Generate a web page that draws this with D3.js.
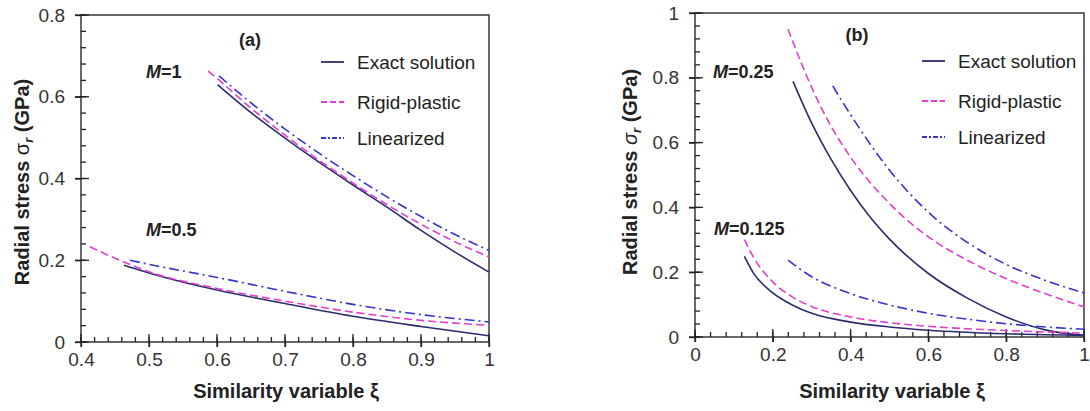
<!DOCTYPE html>
<html><head><meta charset="utf-8">
<script src="https://cdn.jsdelivr.net/npm/d3@7"></script>
<style>body{margin:0;background:#fff}svg{display:block}</style>
</head><body>
<svg id="c" width="1090" height="411"></svg>
<script>
// ---------- data: panel (a) ----------
const aXTicks = [0.4,0.5,0.6,0.7,0.8,0.9,1];
const aYTicks = [0,0.2,0.4,0.6,0.8];
const aExact1X = [0.601,0.65,0.7,0.75,0.8,0.85,0.9,0.95,1.0];
const aExact1Y = [0.629,0.561,0.499,0.440,0.384,0.330,0.273,0.220,0.171];
const aRigid1X = [0.587,0.6,0.65,0.7,0.75,0.8,0.85,0.9,0.95,1.0];
const aRigid1Y = [0.663,0.645,0.572,0.506,0.445,0.389,0.336,0.288,0.245,0.208];
const aLin1X   = [0.603,0.65,0.7,0.75,0.8,0.85,0.9,0.95,1.0];
const aLin1Y   = [0.651,0.585,0.521,0.462,0.407,0.355,0.307,0.263,0.224];
const aExact05X = [0.463,0.5,0.6,0.7,0.8,0.9,1.0];
const aExact05Y = [0.188,0.169,0.127,0.094,0.063,0.038,0.015];
const aRigid05X = [0.413,0.45,0.5,0.6,0.7,0.8,0.9,1.0];
const aRigid05Y = [0.233,0.205,0.172,0.131,0.100,0.073,0.053,0.041];
const aLin05X   = [0.472,0.5,0.6,0.7,0.8,0.9,1.0];
const aLin05Y   = [0.200,0.190,0.158,0.124,0.092,0.067,0.049];
// ---------- data: panel (b) ----------
const bXTicks = [0,0.2,0.4,0.6,0.8,1];
const bYTicks = [0,0.2,0.4,0.6,0.8,1];
const bExact25X = [0.252,0.3,0.35,0.4,0.45,0.5,0.6,0.7,0.8,0.9,1.0];
const bExact25Y = [0.789,0.660,0.548,0.452,0.370,0.302,0.196,0.120,0.062,0.022,0.005];
const bRigid25X = [0.239,0.3,0.35,0.4,0.5,0.6,0.7,0.8,0.9,1.0];
const bRigid25Y = [0.950,0.770,0.650,0.555,0.412,0.309,0.237,0.180,0.134,0.093];
const bLin25X   = [0.354,0.4,0.5,0.6,0.7,0.8,0.9,1.0];
const bLin25Y   = [0.775,0.686,0.515,0.385,0.292,0.224,0.175,0.136];
const bExact125X = [0.127,0.15,0.2,0.25,0.3,0.4,0.5,0.6,0.8,1.0];
const bExact125Y = [0.249,0.198,0.136,0.099,0.073,0.046,0.031,0.021,0.010,0.005];
const bRigid125X = [0.127,0.15,0.2,0.25,0.3,0.4,0.5,0.6,0.8,1.0];
const bRigid125Y = [0.301,0.247,0.170,0.124,0.094,0.062,0.044,0.033,0.020,0.012];
const bLin125X   = [0.239,0.3,0.4,0.5,0.6,0.7,0.8,0.9,1.0];
const bLin125Y   = [0.237,0.186,0.134,0.099,0.073,0.055,0.041,0.031,0.024];
const legendNames = ["Exact solution","Rigid-plastic","Linearized"];

const styles = {
  exact: {color:"#2c2b6e", dash:null, w:1.6},
  rigid: {color:"#e23fcf", dash:"8,4", w:1.6},
  lin:   {color:"#3434cf", dash:"10,4,2,4", w:1.6}
};
const zip = (xs,ys)=>xs.map((x,i)=>[x,ys[i]]);

const panels = [
  {x0:81,x1:489,y0:15,y1:342, xd:[0.4,1], yd:[0,0.8], xt:aXTicks, yt:aYTicks, xMinor:0.02, yMinor:0.04,
   xfmt:d=>d===1?"1":d3.format(".1f")(d), yfmt:d=>d===0?"0":d3.format(".1f")(d),
   series:[["exact",zip(aExact1X,aExact1Y)],["rigid",zip(aRigid1X,aRigid1Y)],["lin",zip(aLin1X,aLin1Y)],
           ["exact",zip(aExact05X,aExact05Y)],["rigid",zip(aRigid05X,aRigid05Y)],["lin",zip(aLin05X,aLin05Y)]],
   tag:"(a)", tagX:250, tagY:46, italicSigma:false, ytx:22, yty:182, xtx:286,
   labels:[["1",146,78],["0.5",146,236]], legX:321, legY:[62,102,138]},
  {x0:695,x1:1084,y0:13,y1:337, xd:[0,1], yd:[0,1], xt:bXTicks, yt:bYTicks, xMinor:0.04, yMinor:0.04,
   xfmt:d=>(d===0||d===1)?String(d):d3.format(".1f")(d), yfmt:d=>(d===0||d===1)?String(d):d3.format(".1f")(d),
   series:[["exact",zip(bExact25X,bExact25Y)],["rigid",zip(bRigid25X,bRigid25Y)],["lin",zip(bLin25X,bLin25Y)],
           ["exact",zip(bExact125X,bExact125Y)],["rigid",zip(bRigid125X,bRigid125Y)],["lin",zip(bLin125X,bLin125Y)]],
   tag:"(b)", tagX:857, tagY:41, italicSigma:true, ytx:630, yty:172, xtx:892,
   labels:[["0.25",713,78],["0.125",714,235]], legX:922, legY:[61,101,137]}
];

const svg = d3.select("#c");
const font = "Liberation Sans, Arial, sans-serif";

panels.forEach(p=>{
  const x = d3.scaleLinear().domain(p.xd).range([p.x0,p.x1]);
  const y = d3.scaleLinear().domain(p.yd).range([p.y1,p.y0]);
  const g = svg.append("g");
  const xMinorT = d3.range(p.xd[0], p.xd[1]+1e-9, p.xMinor);
  const yMinorT = d3.range(p.yd[0], p.yd[1]+1e-9, p.yMinor);

  // frame
  g.append("rect").attr("x",p.x0).attr("y",p.y0).attr("width",p.x1-p.x0).attr("height",p.y1-p.y0)
    .attr("fill","none").attr("stroke","#444").attr("stroke-width",1.6);

  // tick marks drawn from the scales (minor inward, major crossing)
  const tk = g.append("g").attr("stroke","#222").attr("stroke-width",1.3);
  tk.selectAll("line.xm").data(xMinorT).join("line").attr("class","xm")
    .attr("x1",d=>x(d)).attr("x2",d=>x(d)).attr("y1",p.y1).attr("y2",p.y1-5);
  tk.selectAll("line.ym").data(yMinorT).join("line").attr("class","ym")
    .attr("x1",p.x0).attr("x2",p.x0+5).attr("y1",d=>y(d)).attr("y2",d=>y(d));
  tk.selectAll("line.xM").data(p.xt).join("line").attr("class","xM")
    .attr("x1",d=>x(d)).attr("x2",d=>x(d)).attr("y1",p.y1+5).attr("y2",p.y1-8);
  tk.selectAll("line.yM").data(p.yt).join("line").attr("class","yM")
    .attr("x1",p.x0-6).attr("x2",p.x0+8).attr("y1",d=>y(d)).attr("y2",d=>y(d));

  // tick labels via axes
  g.append("g").attr("transform",`translate(0,${p.y1})`)
    .call(d3.axisBottom(x).tickValues(p.xt).tickSize(5).tickPadding(6).tickFormat(p.xfmt));
  g.append("g").attr("transform",`translate(${p.x0},0)`)
    .call(d3.axisLeft(y).tickValues(p.yt).tickSize(6).tickPadding(10).tickFormat(p.yfmt));
  g.selectAll(".domain").remove();
  g.selectAll(".tick line").attr("stroke","#222").attr("stroke-width",1.3);
  g.selectAll(".tick text").attr("font-family",font).attr("font-size",19).attr("fill","#333");

  // curves
  const line = d3.line().x(d=>x(d[0])).y(d=>y(d[1])).curve(d3.curveMonotoneX);
  p.series.forEach(([k,data])=>{
    const s = styles[k];
    g.append("path").datum(data).attr("d",line).attr("fill","none")
      .attr("stroke",s.color).attr("stroke-width",s.w).attr("stroke-dasharray",s.dash);
  });

  // axis titles
  g.append("text").attr("x",p.xtx).attr("y",398).attr("text-anchor","middle")
    .attr("font-family",font).attr("font-weight","bold").attr("font-size",20).attr("fill","#222")
    .text("Similarity variable ξ");
  const yt = g.append("text").attr("transform",`translate(${p.ytx},${p.yty}) rotate(-90)`)
    .attr("text-anchor","middle").attr("dy","0.35em")
    .attr("font-family",font).attr("font-weight","bold").attr("font-size",20).attr("fill","#222");
  yt.append("tspan").text("Radial stress ");
  yt.append("tspan").text("σ").attr("font-weight","normal").attr("font-style",p.italicSigma?"italic":"normal");
  yt.append("tspan").text("r").attr("font-size",13).attr("dy",4).attr("font-style","italic");
  yt.append("tspan").text(" (GPa)").attr("dy",-4);

  // panel tag
  g.append("text").attr("x",p.tagX).attr("y",p.tagY).attr("text-anchor","middle")
    .attr("font-family",font).attr("font-weight","bold").attr("font-size",18).attr("fill","#222").text(p.tag);
  // M labels
  p.labels.forEach(([v,lx,ly])=>{
    const t = g.append("text").attr("x",lx).attr("y",ly).attr("font-family",font)
      .attr("font-weight","bold").attr("font-size",18).attr("fill","#222");
    t.append("tspan").attr("font-style","italic").text("M");
    t.append("tspan").text("=" + v);
  });
  // legend
  ["exact","rigid","lin"].forEach((k,i)=>{
    const s = styles[k], ly = p.legY[i];
    g.append("line").attr("x1",p.legX).attr("x2",p.legX+23).attr("y1",ly).attr("y2",ly)
      .attr("stroke",s.color).attr("stroke-width",1.8).attr("stroke-dasharray",k==="rigid"?"6,3":(k==="lin"?"5,2,2,2":null));
    g.append("text").attr("x",p.legX+36).attr("y",ly).attr("dy","0.35em")
      .attr("font-family",font).attr("font-size",19).attr("fill","#222").text(legendNames[i]);
  });
});
</script>
</body></html>
